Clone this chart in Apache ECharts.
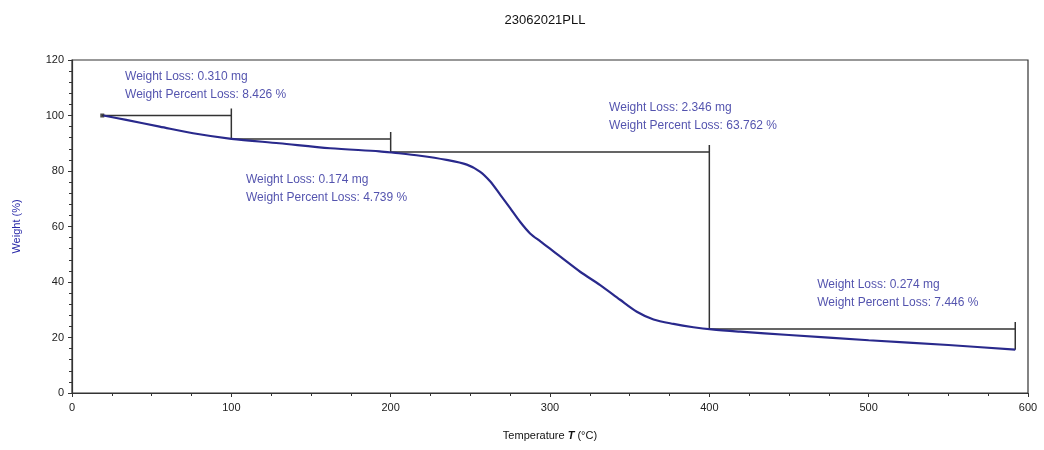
<!DOCTYPE html>
<html><head><meta charset="utf-8">
<script src="https://cdn.jsdelivr.net/npm/echarts@6/dist/echarts.min.js"></script>
<style>html,body{margin:0;padding:0;background:#fff}#c{width:1044px;height:450px}</style>
</head><body><div id="c"></div>
<script>
// TGA curve (temperature °C, weight %)
var temperature = [19.7, 34, 55, 76, 100, 130, 162, 193, 201.7, 218.5, 235, 247.8, 256, 262.4, 268.7, 275, 281.2, 287.5, 294, 300, 306.3, 318.9, 331.5, 344, 354.5, 365, 377.5, 390, 401.5, 419.3, 450, 500, 550, 592];
var weight      = [100.0, 98.4, 96.0, 93.6, 91.6, 90.0, 88.2, 87.1, 86.6, 85.5, 84.0, 82.3, 79.8, 76.3, 71.5, 66.6, 61.7, 57.5, 54.6, 52.0, 49.2, 43.7, 38.9, 33.6, 29.3, 26.5, 24.9, 23.7, 22.9, 22.1, 20.9, 19.0, 17.3, 15.6];

// step annotations
var stepStartT = [19, 100, 200, 400];
var stepEndT   = [100, 200, 400, 592];
var stepFromW  = [100, 91.57, 86.83, 23.07];
var stepToW    = [91.57, 86.83, 23.07, 15.62];
var lossMg      = ['0.310', '0.174', '2.346', '0.274'];
var lossPercent = ['8.426', '4.739', '63.762', '7.446'];
var labelT = [33.3, 109.2, 337.1, 467.7];
var labelW = [110.6, 73.5, 99.5, 35.9];

var xTicks = [0, 100, 200, 300, 400, 500, 600];
var yTicks = [0, 20, 40, 60, 80, 100, 120];

var chart = echarts.init(document.getElementById('c'));
var curve = temperature.map(function (t, i) { return [t, weight[i]]; });
var series = [{
  type: 'line', data: curve, showSymbol: false, smooth: 0.3,
  lineStyle: { color: '#29298c', width: 2.2 }, z: 3, silent: true
}];
for (var i = 0; i < stepStartT.length; i++) {
  series.push({
    type: 'line', showSymbol: false, silent: true, z: 2,
    lineStyle: { color: '#333', width: 1.5 },
    data: [[stepStartT[i], stepFromW[i]], [stepEndT[i], stepFromW[i]], [stepEndT[i], stepFromW[i] + 2.5], [stepEndT[i], stepToW[i]]]
  });
}
series.push({
  type: 'scatter', silent: true, symbol: 'rect', symbolSize: 4,
  itemStyle: { color: '#222' },
  data: [[stepStartT[0], stepFromW[0]]]
});
series.push({
  type: 'scatter', silent: true, symbolSize: 0, z: 5,
  data: labelT.map(function (t, i) { return [t, labelW[i], i]; }),
  label: {
    show: true, position: 'right', distance: 0,
    color: '#28289a', fontFamily: 'Liberation Sans, Arial', fontSize: 12, lineHeight: 18, align: 'left',
    formatter: function (p) {
      var k = p.data[2];
      return 'Weight Loss: ' + lossMg[k] + ' mg\nWeight Percent Loss: ' + lossPercent[k] + ' %';
    }
  }
});

chart.setOption({
  animation: false,
  title: {
    text: '23062021PLL', left: 540, top: 9, textAlign: 'center',
    textStyle: { fontFamily: 'Liberation Sans, Arial', fontSize: 13, fontWeight: 'normal', color: '#111' }
  },
  grid: { left: 72, right: 16, top: 60, bottom: 57, show: true, borderColor: '#333', borderWidth: 1.2 },
  xAxis: {
    type: 'value', min: xTicks[0], max: xTicks[xTicks.length - 1], interval: 100,
    name: '{a|Temperature }{b|T}{a| (°C)}', nameLocation: 'middle', nameGap: 37,
    nameTextStyle: { rich: {
      a: { fontFamily: 'Liberation Sans, Arial', fontSize: 11, color: '#111' },
      b: { fontFamily: 'Liberation Sans, Arial', fontSize: 11, color: '#111', fontStyle: 'italic', fontWeight: 'bold' }
    } },
    axisLine: { show: true, lineStyle: { color: '#333', width: 1.2 } },
    axisTick: { show: true, length: 4, lineStyle: { color: '#333' } },
    minorTick: { show: true, splitNumber: 4, length: 3, lineStyle: { color: '#333' } },
    splitLine: { show: false },
    axisLabel: { fontFamily: 'Liberation Sans, Arial', fontSize: 11, color: '#222', margin: 9 }
  },
  yAxis: {
    type: 'value', min: yTicks[0], max: yTicks[yTicks.length - 1], interval: 20,
    name: 'Weight (%)', nameLocation: 'middle', nameGap: 50,
    nameTextStyle: { fontFamily: 'Liberation Sans, Arial', fontSize: 11, color: '#2828a8' },
    axisLine: { show: true, lineStyle: { color: '#333', width: 1.2 } },
    axisTick: { show: true, length: 4, lineStyle: { color: '#333' } },
    minorTick: { show: true, splitNumber: 5, length: 3, lineStyle: { color: '#333' } },
    splitLine: { show: false },
    axisLabel: { fontFamily: 'Liberation Sans, Arial', fontSize: 11, color: '#222', margin: 8 }
  },
  series: series
});
</script></body></html>
